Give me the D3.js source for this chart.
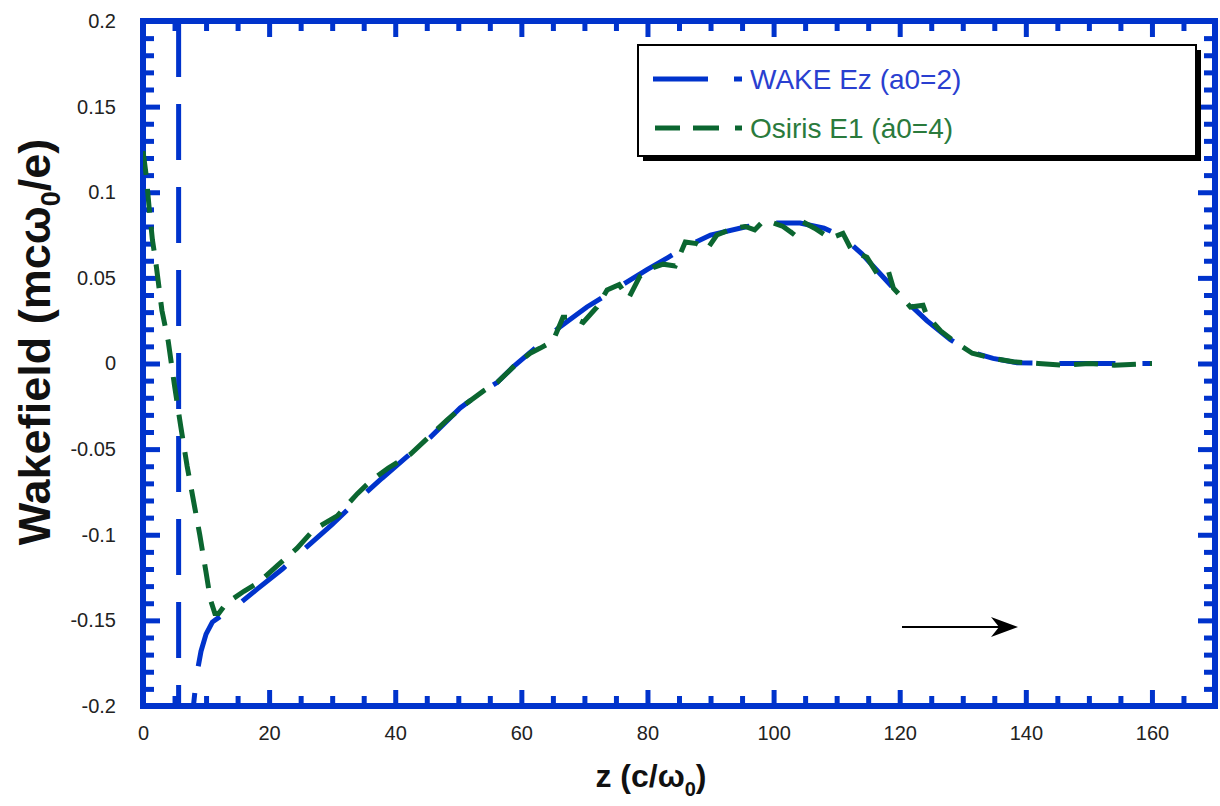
<!DOCTYPE html>
<html>
<head>
<meta charset="utf-8">
<script src="https://cdn.jsdelivr.net/npm/d3@7/dist/d3.min.js"></script>
<style>
  html, body { margin: 0; padding: 0; background: #ffffff; }
  svg { display: block; }
  text { font-family: "Liberation Sans", Arial, Helvetica, sans-serif; }
</style>
</head>
<body>
<svg id="chart" width="1220" height="806"></svg>
<script>
// ---------------- data ----------------
const xDomain = [0, 170];
const yDomain = [-0.2, 0.2];
const xMajorTicks = [0, 20, 40, 60, 80, 100, 120, 140, 160];
const xMinorTicks = [5, 10, 15, 25, 30, 35, 45, 50, 55, 65, 70, 75, 85, 90, 95, 105, 110, 115, 125, 130, 135, 145, 150, 155, 165, 170];
const yMajorTicks = [-0.2, -0.15, -0.1, -0.05, 0, 0.05, 0.1, 0.15, 0.2];
const yMajorLabels = ["-0.2", "-0.15", "-0.1", "-0.05", "0", "0.05", "0.1", "0.15", "0.2"];
const yMinorTicks = [-0.19, -0.18, -0.17, -0.16, -0.14, -0.13, -0.12, -0.11, -0.09, -0.08, -0.07, -0.06,
  -0.04, -0.03, -0.02, -0.01, 0.01, 0.02, 0.03, 0.04, 0.06, 0.07, 0.08, 0.09, 0.11, 0.12, 0.13, 0.14,
  0.16, 0.17, 0.18, 0.19];

const seriesNames = ["WAKE Ez (a0=2)", "Osiris E1 (\u0227" + "0=4)"];

// WAKE Ez (a0=2): [z, Ez]; null marks a break in the curve
const wakePoints = [
  [5.65, 0.2], [5.65, -0.26],
  [6.5, null],
  [7.6, -0.225], [8.0, -0.2], [8.5, -0.182], [9.2, -0.168], [10, -0.158], [11, -0.151],
  [12.5, -0.147], [14.4, -0.143],
  [18, -0.132], [22.1, -0.12], [26.6, -0.105], [30, -0.094], [33.4, -0.082], [37.9, -0.067],
  [42, -0.054], [45.6, -0.043], [50.3, -0.026], [54, -0.016], [56.2, -0.011], [58.7, -0.002],
  [62.2, 0.009], [66, 0.021], [70.4, 0.033], [75.2, 0.044], [80, 0.055], [83.3, 0.062],
  [86, 0.068], [90, 0.075], [95.8, 0.080], [100, 0.082], [104.2, 0.082], [108, 0.079],
  [111, 0.074], [114, 0.064], [117, 0.052], [120, 0.040], [124.3, 0.025], [128, 0.014],
  [131, 0.007], [134.8, 0.003], [138.6, 0.0005], [145, 0], [160, 0]
];

// Osiris E1 (a0=4): [z, E1]
const osirisPoints = [
  [0, 0.124], [0.5, 0.11], [1, 0.09], [1.5, 0.072], [2, 0.06], [3, 0.031], [4, 0.013],
  [5, -0.013], [6, -0.037], [7, -0.06], [8, -0.08], [9, -0.1], [10, -0.122], [10.7, -0.138],
  [11.4, -0.146], [12, -0.146], [13, -0.141], [14.4, -0.137], [16, -0.133], [18.3, -0.128],
  [21.3, -0.118], [24.4, -0.108], [27.1, -0.097], [30.8, -0.089], [34, -0.076], [36, -0.069],
  [38.9, -0.061], [42.4, -0.053], [45.6, -0.042], [48.2, -0.033], [51.4, -0.023], [54, -0.016],
  [56.2, -0.011], [59, -0.001], [61.4, 0.006], [63, 0.009], [65, 0.013], [66.6, 0.027],
  [68, 0.027], [69.8, 0.024], [72, 0.033], [73.6, 0.043], [75.5, 0.046], [77, 0.038],
  [78.8, 0.051], [80.9, 0.056], [82.5, 0.058], [84.4, 0.057], [86, 0.071], [87.8, 0.070],
  [89.5, 0.067], [91, 0.075], [93.6, 0.079], [95.5, 0.080], [97, 0.078], [98.3, 0.083],
  [100, 0.082], [101.5, 0.080], [103, 0.076], [104.5, 0.083], [106.5, 0.079], [109, 0.073],
  [111, 0.076], [112.4, 0.066], [114.8, 0.062], [116.5, 0.052], [118.2, 0.054], [119, 0.044],
  [120, 0.040], [121.7, 0.033], [123.7, 0.034], [124.3, 0.028], [126.5, 0.019], [129, 0.012],
  [131.5, 0.006], [134.8, 0.003], [138, 0.001], [142, 0], [146, -0.001], [150, 0],
  [154, -0.001], [160, 0]
];

// ---------------- drawing ----------------
const blue = "#0033cc";
const green = "#0b6630";
const svg = d3.select("#chart");
const L = 143, R = 1215, T = 21, B = 706;

const x = d3.scaleLinear().domain(xDomain).range([L, R]);
const y = d3.scaleLinear().domain(yDomain).range([B, T]);

svg.append("defs").append("clipPath").attr("id", "plotclip")
  .append("rect").attr("x", L).attr("y", T).attr("width", R - L).attr("height", B - T);

function styleAxis(g) {
  g.select(".domain").remove();
  g.selectAll(".tick line").attr("stroke", blue).attr("stroke-width", 5);
  g.selectAll(".tick text").attr("fill", "#222").style("font-size", "20px");
}

// bottom axis
svg.append("g").attr("transform", `translate(0,${B})`)
  .call(d3.axisBottom(x).tickValues(xMajorTicks).tickSize(-16).tickPadding(20).tickFormat(d3.format("d")))
  .call(styleAxis);
svg.append("g").attr("transform", `translate(0,${B})`)
  .call(d3.axisBottom(x).tickValues(xMinorTicks).tickSize(-10).tickFormat(""))
  .call(styleAxis);
// top axis (mirrored)
svg.append("g").attr("transform", `translate(0,${T})`)
  .call(d3.axisTop(x).tickValues(xMajorTicks).tickSize(-16).tickFormat(""))
  .call(styleAxis);
svg.append("g").attr("transform", `translate(0,${T})`)
  .call(d3.axisTop(x).tickValues(xMinorTicks).tickSize(-10).tickFormat(""))
  .call(styleAxis);
// left axis
svg.append("g").attr("transform", `translate(${L},0)`)
  .call(d3.axisLeft(y).tickValues(yMajorTicks).tickSize(-17).tickPadding(27)
    .tickFormat((d, i) => yMajorLabels[i]))
  .call(styleAxis);
svg.append("g").attr("transform", `translate(${L},0)`)
  .call(d3.axisLeft(y).tickValues(yMinorTicks).tickSize(-11).tickFormat(""))
  .call(styleAxis);
// right axis (mirrored)
svg.append("g").attr("transform", `translate(${R},0)`)
  .call(d3.axisRight(y).tickValues(yMajorTicks).tickSize(-17).tickFormat(""))
  .call(styleAxis);
svg.append("g").attr("transform", `translate(${R},0)`)
  .call(d3.axisRight(y).tickValues(yMinorTicks).tickSize(-11).tickFormat(""))
  .call(styleAxis);

// frame
svg.append("rect").attr("x", L).attr("y", T).attr("width", R - L).attr("height", B - T)
  .attr("fill", "none").attr("stroke", blue).attr("stroke-width", 6);

// lines
const line = d3.line().defined(d => d[1] !== null).x(d => x(d[0])).y(d => y(d[1]));
const plot = svg.append("g").attr("clip-path", "url(#plotclip)");

plot.append("path").datum(wakePoints).attr("d", line)
  .attr("fill", "none").attr("stroke", blue).attr("stroke-width", 5)
  .attr("stroke-dasharray", "56,27");
plot.append("path").datum(osirisPoints).attr("d", line)
  .attr("fill", "none").attr("stroke", green).attr("stroke-width", 5)
  .attr("stroke-dasharray", "24,14");

// arrow
svg.append("line").attr("x1", 902).attr("y1", 627).attr("x2", 1000).attr("y2", 627)
  .attr("stroke", "#000").attr("stroke-width", 1.8);
svg.append("path").attr("d", "M1018,627 L991,617 L999,627 L991,637 Z").attr("fill", "#000");

// legend
const lg = svg.append("g");
lg.append("rect").attr("x", 643).attr("y", 50).attr("width", 558).attr("height", 111).attr("fill", "#000");
lg.append("rect").attr("x", 638).attr("y", 45).attr("width", 558).attr("height", 111)
  .attr("fill", "#fff").attr("stroke", "#000").attr("stroke-width", 2);
// blue sample
lg.append("line").attr("x1", 653).attr("x2", 708).attr("y1", 79).attr("y2", 79)
  .attr("stroke", blue).attr("stroke-width", 5);
lg.append("line").attr("x1", 734).attr("x2", 742).attr("y1", 79).attr("y2", 79)
  .attr("stroke", blue).attr("stroke-width", 5);
lg.append("text").attr("x", 750).attr("y", 89).attr("fill", "#2a3fd0")
  .style("font-size", "28px").text(seriesNames[0]);
// green sample
[[655, 680], [693, 719], [735, 742]].forEach(s => {
  lg.append("line").attr("x1", s[0]).attr("x2", s[1]).attr("y1", 128).attr("y2", 128)
    .attr("stroke", green).attr("stroke-width", 5);
});
lg.append("text").attr("x", 750).attr("y", 138).attr("fill", "#2a7a3c")
  .style("font-size", "28px").text(seriesNames[1]);

// axis titles
const xt = svg.append("text").attr("x", 651).attr("y", 787).attr("text-anchor", "middle")
  .style("font-size", "32px").style("font-weight", "bold").attr("fill", "#111");
xt.append("tspan").text("z (c/\u03c9");
xt.append("tspan").attr("dy", 9).style("font-size", "20px").text("0");
xt.append("tspan").attr("dy", -9).text(")");

const yt = svg.append("text").attr("transform", "translate(50,342) rotate(-90)")
  .attr("text-anchor", "middle").style("font-size", "45px").style("font-weight", "bold").attr("fill", "#111");
yt.append("tspan").text("Wakefield (mc\u03c9");
yt.append("tspan").attr("dy", 10).style("font-size", "27px").text("0");
yt.append("tspan").attr("dy", -10).text("/e)");
</script>
</body>
</html>
